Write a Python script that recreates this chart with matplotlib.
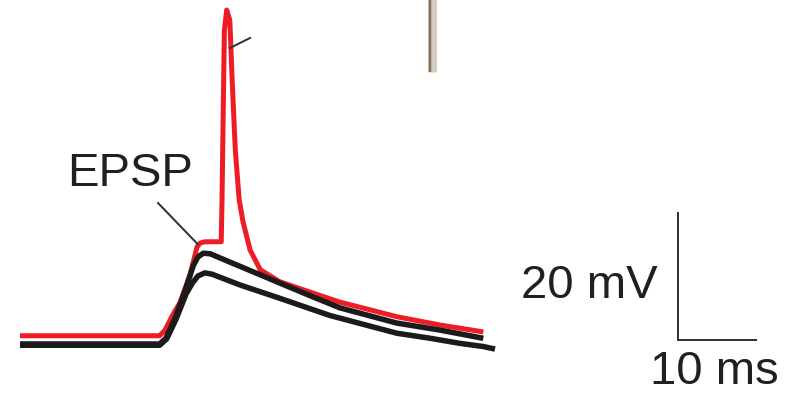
import matplotlib
matplotlib.use("Agg")
import matplotlib.pyplot as plt

# Time (ms) and membrane potential (mV)
red_t = [0, 17.9, 18.6, 19.5, 20.5, 21.8, 22.7, 23.1, 23.7, 25.8, 25.9, 26.2, 26.5, 26.9,
         27.2, 27.6, 28.1, 28.6, 29.5, 30.8, 33.3, 37.6, 41.0, 48.3, 53.8, 59.4]
red_v = [-68.7, -68.7, -67.8, -65.6, -63.5, -59.1, -54.7, -54.1, -53.9, -53.9, -47.3, -20.6,
         -17.4, -19.0, -28.4, -39.4, -47.3, -50.8, -55.2, -58.3, -60.2, -62.0, -63.4, -65.7,
         -67.0, -68.1]

blk1_t = [0, 17.9, 18.7, 19.9, 21.2, 22.2, 22.8, 23.5, 24.4, 26.9, 30.8, 33.3, 37.2, 41.0,
          48.3, 53.8, 59.4]
blk1_v = [-70, -70, -69.1, -65.9, -61.5, -57.7, -56.3, -55.7, -55.8, -57.1, -59.1, -60.4,
          -62.4, -64.3, -66.7, -67.8, -69.1]

blk2_t = [0, 17.9, 18.8, 20.0, 21.3, 22.1, 22.8, 23.7, 24.6, 28.2, 33.3, 39.7, 48.3, 52.6,
          56.4, 59.4, 60.9]
blk2_v = [-70.2, -70.2, -69.2, -66.1, -62.1, -60.4, -59.3, -58.8, -59.0, -60.7, -62.8, -65.5,
          -68.3, -69.1, -69.9, -70.4, -70.8]

bar_t, bar_v = 10, 20          # scale bar sizes
bar_x0, bar_y0 = 84.4, -69.4   # scale bar corner

# pixel <-> data mapping of the figure frame
PX_PER_MS, PX_PER_MV = 7.8, 6.35
W, H = 796, 395
def tx(px): return (px - 20) / PX_PER_MS
def vy(py): return -70 + (344 - py) / PX_PER_MV

fig = plt.figure(figsize=(W / 100, H / 100), dpi=100)
ax = fig.add_axes([0, 0, 1, 1])
ax.set_xlim(tx(0), tx(W))
ax.set_ylim(vy(H), vy(0))
ax.axis("off")

red = "#ee1c25"
blk = "#1c1a1a"
pt = 72 / 100  # points per pixel

ax.plot(red_t, red_v, color=red, lw=5 * pt, solid_joinstyle="round", solid_capstyle="butt", zorder=2)
ax.plot(blk1_t, blk1_v, color=blk, lw=5.5 * pt, solid_joinstyle="round", solid_capstyle="butt", zorder=3)
ax.plot(blk2_t, blk2_v, color=blk, lw=5.5 * pt, solid_joinstyle="round", solid_capstyle="butt", zorder=3)

# pipette
ax.plot([52.8, 52.8], [vy(-5), vy(72)], color="#d6cbbf", lw=9 * pt, solid_capstyle="butt", zorder=1)
ax.plot([52.6, 52.6], [vy(-5), vy(72)], color="#85705e", lw=2.5 * pt, solid_capstyle="butt", zorder=1)

# leader lines
ax.plot([17.7, 22.8], [-47.8, -54.3], color="#333333", lw=2 * pt, zorder=4)
ax.plot([26.9, 29.5], [-23.4, -21.8], color="#333333", lw=2 * pt, zorder=4)

# scale bar
ax.plot([bar_x0, bar_x0, bar_x0 + bar_t], [bar_y0 + bar_v, bar_y0, bar_y0],
        color="#333333", lw=2 * pt, solid_joinstyle="miter", zorder=4)

font = dict(family=["Liberation Sans", "DejaVu Sans"], fontsize=34, color="#231f20")
ax.text(14.1, -43.2, "EPSP", ha="center", va="center", **font)
ax.text(81.7, -60.9, "20 mV", ha="right", va="center", **font)
ax.text(89.0, -74.4, "10 ms", ha="center", va="center", **font)

fig.savefig("out.png", dpi=100)
